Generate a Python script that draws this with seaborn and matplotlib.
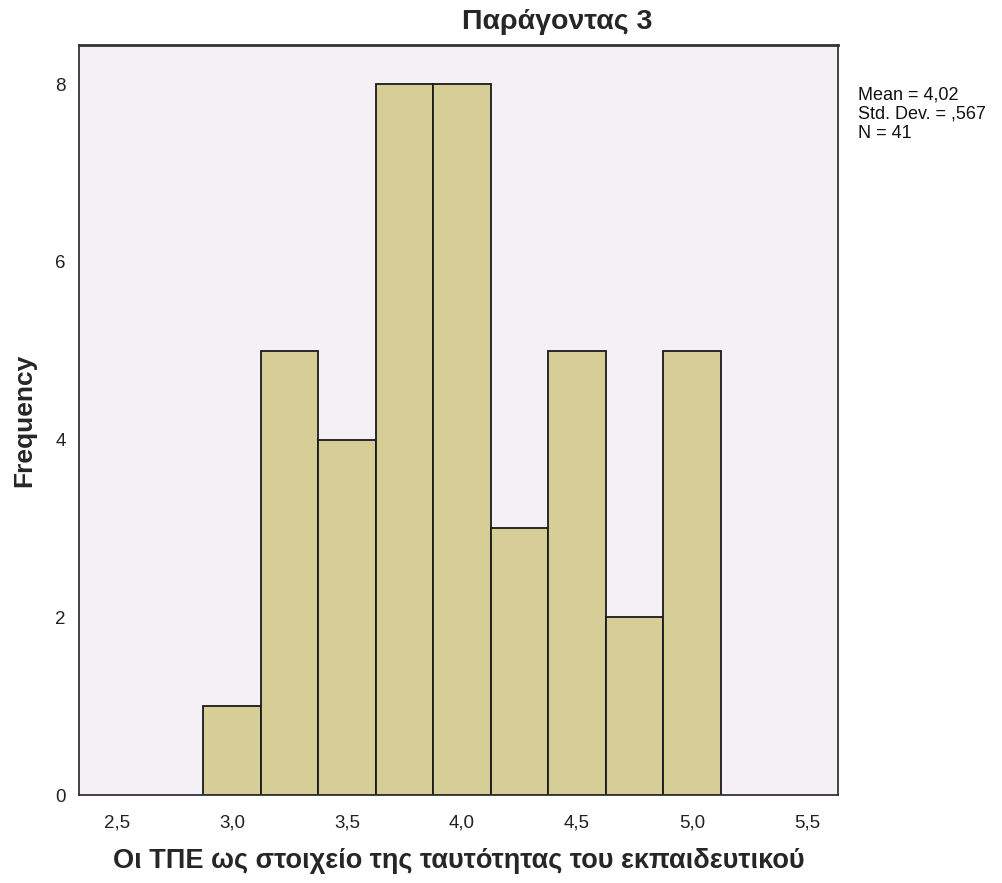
import numpy as np
import matplotlib
matplotlib.use("Agg")
import matplotlib.pyplot as plt
import seaborn as sns

# histogram bins (width 0,25)
bin_centers = [3.0, 3.25, 3.5, 3.75, 4.0, 4.25, 4.5, 4.75, 5.0]
bin_counts = [1, 5, 4, 8, 8, 3, 5, 2, 5]
bin_edges = [2.875, 3.125, 3.375, 3.625, 3.875, 4.125, 4.375, 4.625, 4.875, 5.125]

x_ticks = [2.5, 3.0, 3.5, 4.0, 4.5, 5.0, 5.5]
x_tick_labels = ["2,5", "3,0", "3,5", "4,0", "4,5", "5,0", "5,5"]
y_ticks = [0, 2, 4, 6, 8]

title = "Παράγοντας 3"
x_label = "Οι ΤΠΕ ως στοιχείο της ταυτότητας του εκπαιδευτικού"
stats_text = "Mean = 4,02\nStd. Dev. = ,567\nN = 41"

sns.set_style("white")
plt.rcParams["font.family"] = ["Liberation Sans", "DejaVu Sans"]

W, H = 1003, 883
fig = plt.figure(figsize=(W / 100, H / 100), dpi=100)
ax = fig.add_axes([79 / W, (H - 795) / H, (838 - 79) / W, (795 - 45) / H])
ax.set_facecolor("#F5F0F5")

sns.histplot(x=bin_centers, weights=bin_counts, bins=bin_edges, color="#D6CE96",
             edgecolor="#1a1a1a", linewidth=1.3, alpha=1, ax=ax)

ax.set_xlim(2.335, 5.635)
ax.set_ylim(0, 8.44)
ax.set_xticks(x_ticks)
ax.set_xticklabels(x_tick_labels)
ax.set_yticks(y_ticks)
ax.tick_params(axis="x", pad=8)
ax.tick_params(axis="both", direction="out", length=6, width=1.3, color="#333333",
               labelsize=13.5, labelcolor="#222222")
for sp in ax.spines.values():
    sp.set_color("#333333")
    sp.set_linewidth(1.3)
ax.spines["top"].set_linewidth(2.0)

ax.set_xlabel(x_label, fontsize=19.5, fontweight="bold", labelpad=12)
ax.set_ylabel("Frequency", fontsize=19, fontweight="bold", labelpad=14)

fig.text(557 / W, 1 - 22 / H, title, ha="center", va="center",
         fontsize=20.5, fontweight="bold")
fig.text(858 / W, 1 - 87 / H, stats_text, ha="left", va="top",
         fontsize=13, linespacing=1.15, color="#111111")

fig.savefig("out.png", dpi=100)
